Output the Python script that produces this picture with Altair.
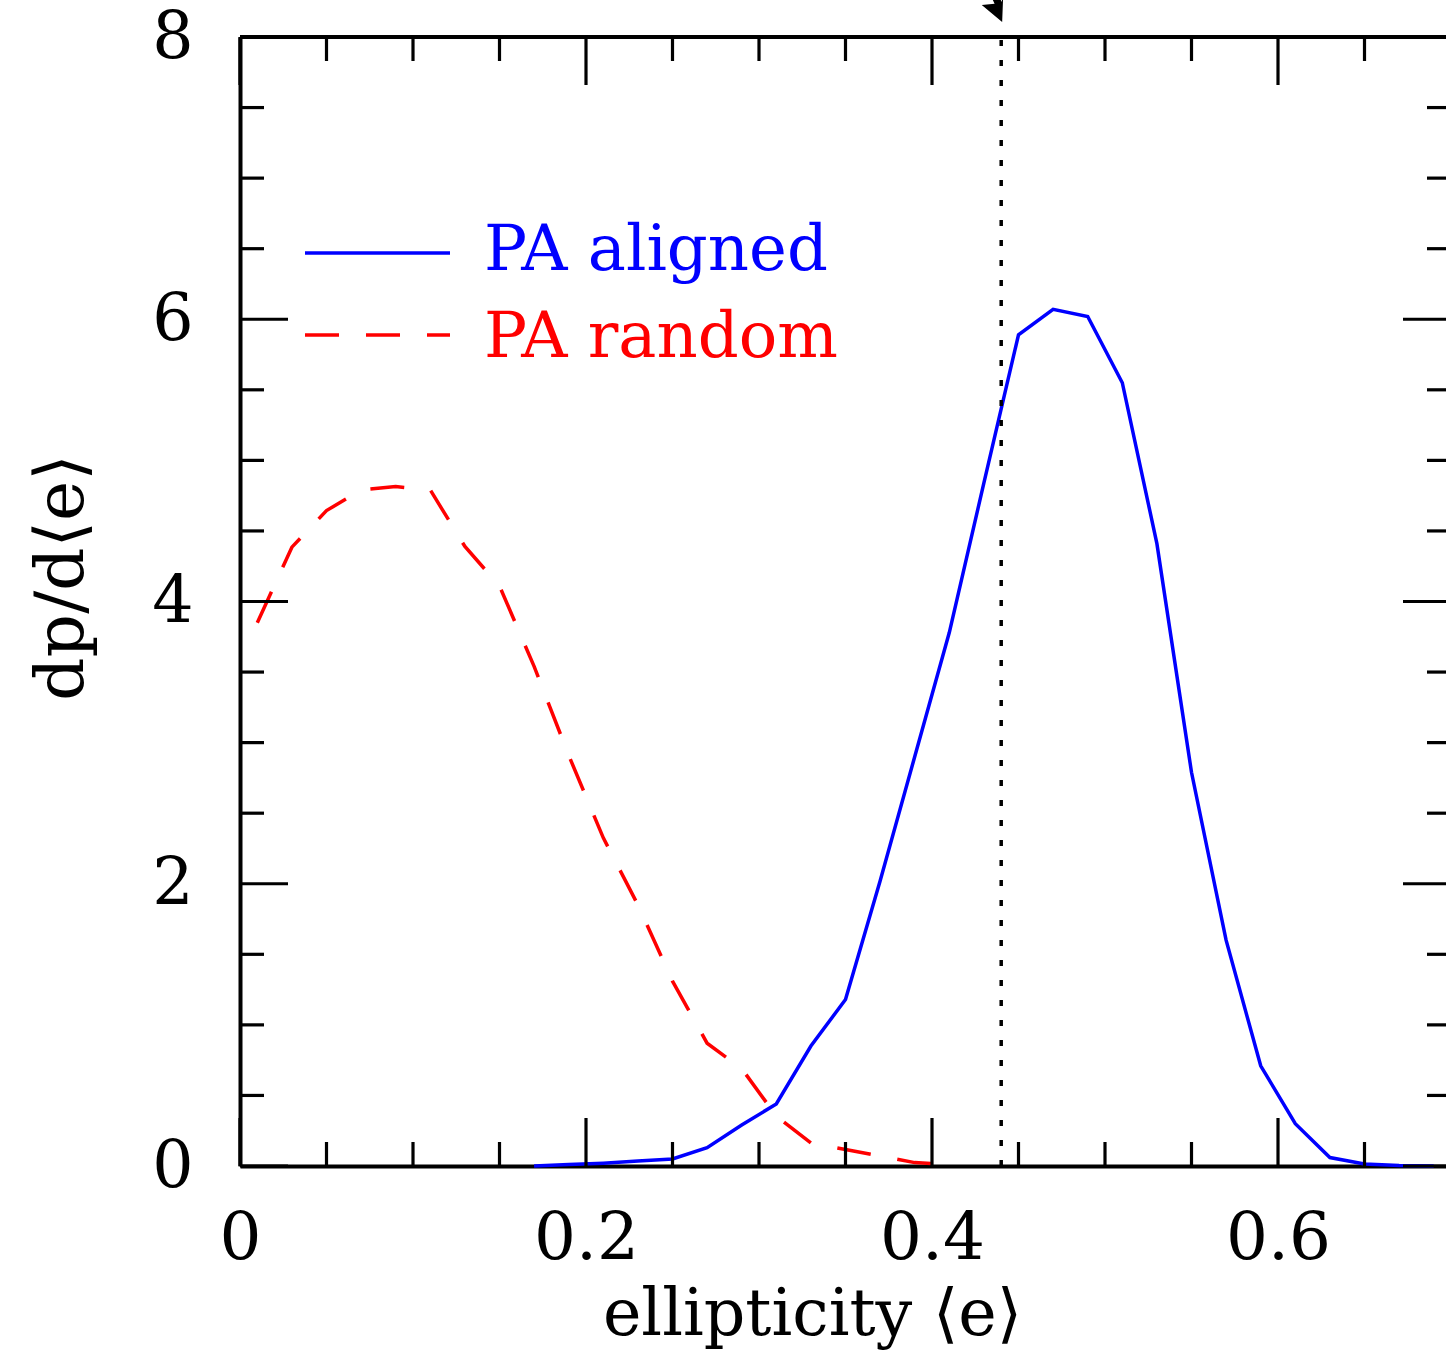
import altair as alt
import pandas as pd

# ---- data ----
e_aligned = [0.17, 0.19, 0.21, 0.23, 0.25, 0.27, 0.29, 0.31, 0.33, 0.35, 0.37, 0.39, 0.41, 0.43,
             0.45, 0.47, 0.49, 0.51, 0.53, 0.55, 0.57, 0.59, 0.61, 0.63, 0.65, 0.67, 0.69]
p_aligned = [0.0, 0.01, 0.02, 0.035, 0.05, 0.13, 0.29, 0.44, 0.85, 1.18, 2.02, 2.90, 3.78, 4.84,
             5.89, 6.07, 6.02, 5.55, 4.41, 2.79, 1.60, 0.71, 0.30, 0.06, 0.014, 0.004, 0.0]

e_random = [0.01, 0.03, 0.05, 0.07, 0.09, 0.11, 0.13, 0.15, 0.17, 0.19, 0.21, 0.23, 0.25, 0.27,
            0.29, 0.31, 0.33, 0.35, 0.37, 0.39, 0.41]
p_random = [3.85, 4.385, 4.644, 4.79, 4.814, 4.79, 4.39, 4.11, 3.54, 2.91, 2.325, 1.85, 1.31, 0.87,
            0.69, 0.354, 0.163, 0.117, 0.07, 0.024, 0.01]

e_marker = [0.44]

x_major = [0.0, 0.2, 0.4, 0.6]
x_minor = [0.05, 0.1, 0.15, 0.25, 0.3, 0.35, 0.45, 0.5, 0.55, 0.65]
y_major = [0, 2, 4, 6, 8]
y_minor = [0.5, 1, 1.5, 2.5, 3, 3.5, 4.5, 5, 5.5, 6.5, 7, 7.5]

legend_labels = ["PA aligned", "PA random"]
legend_colors = ["#0000ff", "#ff0000"]

# ---- layout / style ----
W, H = 1206, 1129
PX_PER_UNIT = 1730.0
XMAX = W / PX_PER_UNIT
RIGHT = 1211  # pixel position of the (off-screen) right frame
FONT = "DejaVu Serif"
MAJ, MIN = 48, 24
LW = 3.5

xs = alt.Scale(domain=[0, XMAX], nice=False, zero=False)
ys = alt.Scale(domain=[0, 8], nice=False, zero=False)

df_a = pd.DataFrame({"e": e_aligned, "p": p_aligned})
df_r = pd.DataFrame({"e": e_random, "p": p_random})
df_m = pd.DataFrame({"e": e_marker})
one = pd.DataFrame({"k": [0]})

blue = alt.Chart(df_a).mark_line(color=legend_colors[0], strokeWidth=LW).encode(
    x=alt.X("e:Q", scale=xs, axis=alt.Axis(
        orient="bottom", values=x_major, format=".1~f", title="ellipticity ⟨e⟩", grid=False,
        domain=True, domainColor="black", domainWidth=4, ticks=False, tickSize=0,
        labelPadding=92, labelBaseline="alphabetic", labelFlush=False, labelOverlap=False,
        labelBound=False, labelFont=FONT, labelFontSize=66, labelColor="black",
        titleFont=FONT, titleFontSize=65, titleFontWeight="normal", titleColor="black",
        titleX=572, titleY=168, titleAlign="center", titleBaseline="alphabetic")),
    y=alt.Y("p:Q", scale=ys, axis=alt.Axis(
        orient="left", values=y_major, format="d", title="dp/d⟨e⟩", grid=False,
        domain=True, domainColor="black", domainWidth=4, ticks=False, tickSize=0,
        labelPadding=47, labelAlign="right", labelBaseline="middle", labelFlush=False,
        labelOverlap=False, labelBound=False, labelFont=FONT, labelFontSize=65,
        labelColor="black", titleFont=FONT, titleFontSize=68, titleFontWeight="normal",
        titleColor="black", titleX=-178, titleY=540, titleAngle=270, titleAlign="center",
        titleBaseline="middle")),
)

red = alt.Chart(df_r).mark_line(color=legend_colors[1], strokeWidth=LW, strokeDash=[34, 27]).encode(
    x=alt.X("e:Q", scale=xs, axis=None),
    y=alt.Y("p:Q", scale=ys, axis=None),
)

dotted = alt.Chart(df_m).mark_rule(color="black", strokeWidth=3.5, strokeDash=[6, 14]).encode(
    x=alt.X("e:Q", scale=xs, axis=None), y=alt.value(H), y2=alt.value(0))

arrow_path = "M 0.08 0.92 L -1.62 -0.5 L -0.55 -0.6 L -1.2 -2 L -0.6 -2 L 0.05 -0.75 L 0.17 -2 L 0.17 -1.4 Z"
arrow = alt.Chart(df_m).mark_point(shape=arrow_path, filled=True, color="black", opacity=1,
                                   size=576, strokeWidth=0).encode(
    x=alt.X("e:Q", scale=xs, axis=None), y=alt.value(-26))


def xticks(vals, y0, y1):
    return alt.Chart(pd.DataFrame({"v": vals})).mark_rule(color="black", strokeWidth=3.2).encode(
        x=alt.X("v:Q", scale=xs, axis=None), y=alt.value(y0), y2=alt.value(y1))


def yticks(vals, x0, x1):
    return alt.Chart(pd.DataFrame({"v": vals})).mark_rule(color="black", strokeWidth=3.2).encode(
        y=alt.Y("v:Q", scale=ys, axis=None), x=alt.value(x0), x2=alt.value(x1))


ticks = [
    xticks(x_major, H, H - MAJ), xticks(x_minor, H, H - MIN),
    xticks(x_major, 0, MAJ), xticks(x_minor, 0, MIN),
    yticks(y_major, 0, MAJ), yticks(y_minor, 0, MIN),
    yticks(y_major, RIGHT, RIGHT - MAJ), yticks(y_minor, RIGHT, RIGHT - MIN),
]

top_frame = alt.Chart(one).mark_rule(color="black", strokeWidth=4).encode(
    x=alt.value(0), x2=alt.value(RIGHT), y=alt.value(0))

leg = []
leg_y = [216, 298]
leg_text_y = [233, 320]
for i, lab in enumerate(legend_labels):
    kw = {"strokeDash": [34, 27]} if i == 1 else {}
    leg.append(alt.Chart(pd.DataFrame({"label": [lab]})).mark_rule(
        color=legend_colors[i], strokeWidth=LW, **kw).encode(
        x=alt.value(65), x2=alt.value(210), y=alt.value(leg_y[i])))
    leg.append(alt.Chart(pd.DataFrame({"label": [lab]})).mark_text(
        color=legend_colors[i], font=FONT, fontSize=64, align="left", baseline="alphabetic").encode(
        x=alt.value(244), y=alt.value(leg_text_y[i]), text="label:N"))

chart = alt.layer(blue, red, dotted, arrow, top_frame, *ticks, *leg).resolve_axis(
    x="independent", y="independent"
).properties(
    width=W, height=H,
    autosize=alt.AutoSizeParams(type="none"),
    padding={"left": 240, "top": 37, "right": 0, "bottom": 185},
    background="white",
).configure_view(stroke=None)

chart.save("out.html", embed_options={"renderer": "svg", "actions": False})
